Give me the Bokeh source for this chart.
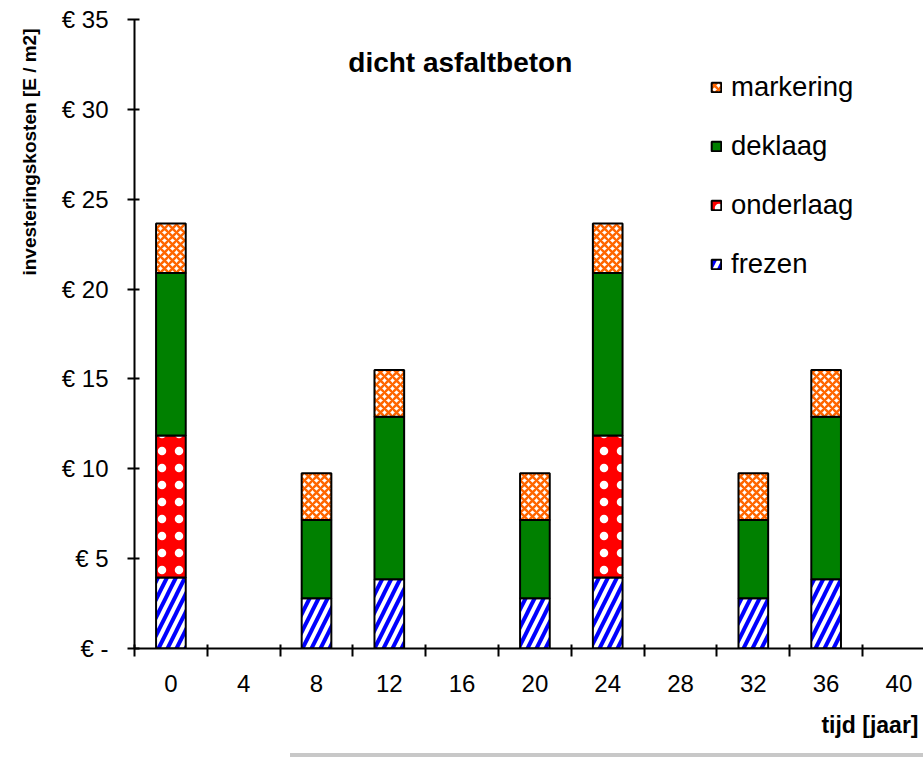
from bokeh.plotting import figure
from bokeh.models import (Range1d, FixedTicker, Label, Legend, LegendItem,
                          ColumnDataSource, Div, Title)
from bokeh.layouts import column
from bokeh.embed import file_html
from bokeh.resources import INLINE

# ---- data ----
years = [0, 4, 8, 12, 16, 20, 24, 28, 32, 36, 40]
frezen = [3.95, 0, 2.8, 3.85, 0, 2.8, 3.95, 0, 2.8, 3.85, 0]
onderlaag = [7.9, 0, 0, 0, 0, 0, 7.9, 0, 0, 0, 0]
deklaag = [9.05, 0, 4.35, 9.05, 0, 4.35, 9.05, 0, 4.35, 9.05, 0]
markering = [2.75, 0, 2.6, 2.6, 0, 2.6, 2.75, 0, 2.6, 2.6, 0]
series_names = ["frezen", "onderlaag", "deklaag", "markering"]
y_ticks = [0, 5, 10, 15, 20, 25, 30, 35]
y_tick_labels = ["€ -", "€ 5", "€ 10", "€ 15", "€ 20", "€ 25", "€ 30", "€ 35"]
title_text = "dicht asfaltbeton"
x_title = "tijd [jaar]"
y_title = "investeringskosten [E / m2]"

FONT = "Liberation Sans"

p = figure(width=923, height=753, output_backend="svg", toolbar_location=None,
           x_range=Range1d(-2, 41.35), y_range=Range1d(0, 35),
           min_border_left=134, min_border_right=0, min_border_top=19,
           min_border_bottom=105)
p.outline_line_color = None
p.xgrid.grid_line_color = None
p.ygrid.grid_line_color = None
p.background_fill_color = "white"
p.border_fill_color = "white"

# stacked bars
styles = {
    "frezen": dict(fill_color="white", hatch_pattern="/", hatch_color="#0000FF",
                   hatch_scale=18, hatch_weight=4),
    "onderlaag": dict(fill_color="#FF0000", hatch_pattern=".", hatch_color="white",
                      hatch_scale=17, hatch_weight=1.3),
    "deklaag": dict(fill_color="#008000"),
    "markering": dict(fill_color="white", hatch_pattern="x", hatch_color="#FF6600",
                      hatch_scale=8, hatch_weight=2.5),
}
values = {"frezen": frezen, "onderlaag": onderlaag, "deklaag": deklaag,
          "markering": markering}
base = [0.0] * len(years)
renderers = {}
for name in series_names:
    vals = values[name]
    xs, bots, tops = [], [], []
    for i, v in enumerate(vals):
        if v > 0:
            xs.append(years[i])
            bots.append(base[i])
            tops.append(base[i] + v)
        base[i] += v
    src = ColumnDataSource(dict(x=xs, bottom=bots, top=tops))
    renderers[name] = p.vbar(x="x", bottom="bottom", top="top", width=1.63,
                             source=src, line_color="black", line_width=2,
                             **styles[name])

# axes
xa = p.xaxis[0]
xa.ticker = FixedTicker(ticks=years, minor_ticks=[y - 2 for y in years] + [42])
xa.major_tick_in = 0
xa.major_tick_out = 0
xa.minor_tick_in = 4
xa.minor_tick_out = 8
xa.minor_tick_line_color = "black"
xa.minor_tick_line_width = 2
xa.axis_line_color = "black"
xa.axis_line_width = 2
xa.major_label_standoff = 18
xa.major_label_text_font = FONT
xa.major_label_text_font_size = "24px"
xa.major_label_text_color = "black"

ya = p.yaxis[0]
ya.ticker = FixedTicker(ticks=y_ticks, minor_ticks=[])
ya.major_label_overrides = {t: l for t, l in zip(y_ticks, y_tick_labels)}
ya.major_tick_in = 5
ya.major_tick_out = 7
ya.major_tick_line_color = "black"
ya.major_tick_line_width = 2
ya.axis_line_color = "black"
ya.axis_line_width = 2
ya.major_label_standoff = 19
ya.major_label_text_font = FONT
ya.major_label_text_font_size = "24px"
ya.major_label_text_color = "black"

# texts
p.add_layout(Label(x=15.9, y=32.63, text=title_text, text_align="center",
                   text_baseline="middle", text_font=FONT, text_font_size="28px",
                   text_font_style="bold", text_color="black"))
p.add_layout(Title(text=x_title, align="right", offset=5, standoff=30,
                   text_font=FONT, text_font_size="23px", text_font_style="bold",
                   text_color="black"), "below")
p.add_layout(Title(text=y_title, align="right", offset=9, standoff=33,
                   vertical_align="top",
                   text_font=FONT, text_font_size="19px", text_font_style="bold",
                   text_color="black"), "left")

# legend
items = [LegendItem(label=n, renderers=[renderers[n]]) for n in reversed(series_names)]
legend = Legend(items=items, location=(576, 368), orientation="vertical",
                glyph_width=12, glyph_height=12, label_height=30, spacing=27,
                label_standoff=9, padding=0, margin=0,
                border_line_color=None, background_fill_alpha=0,
                label_text_font=FONT, label_text_font_size="27.5px",
                label_text_color="black")
p.add_layout(legend)

bar = Div(text="", width=633, height=4, margin=(0, 0, 0, 290),
          styles={"background-color": "#C8C8C8"})

layout = column(p, bar, spacing=0)
open("out.html", "w").write(file_html(layout, INLINE))
